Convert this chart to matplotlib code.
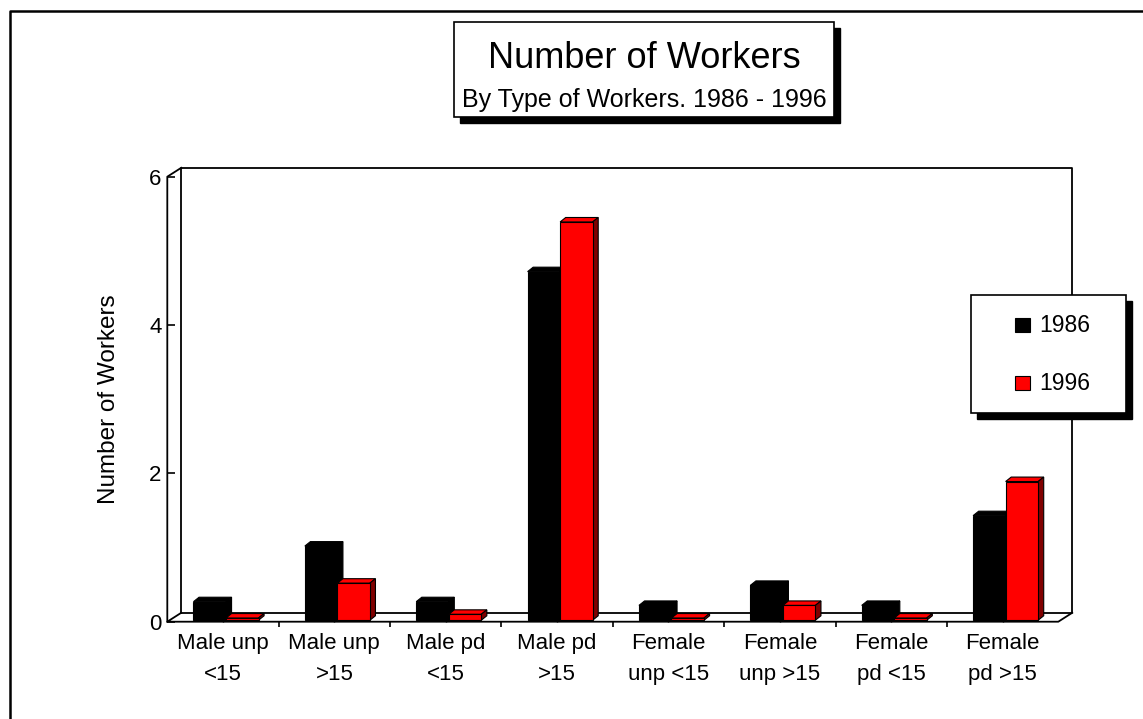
#!/usr/bin/env python
# -*- coding: utf-8 -*-

import matplotlib
matplotlib.use('Agg')
import matplotlib.pyplot as plt
import numpy as np
from matplotlib.patches import Polygon, Rectangle
from matplotlib.lines import Line2D

categories = ['Male unp\n<15', 'Male unp\n>15', 'Male pd\n<15', 'Male pd\n>15',
              'Female\nunp <15', 'Female\nunp >15', 'Female\npd <15', 'Female\npd >15']
years = ['1986', '1996']
workers_1986 = [0.25, 1.0, 0.25, 4.7, 0.2, 0.47, 0.2, 1.41]
workers_1996 = [0.03, 0.5, 0.08, 5.37, 0.03, 0.2, 0.03, 1.87]
yticks = [0, 2, 4, 6]

W, H = 1143, 719
plt.rcParams['font.family'] = ['Liberation Sans', 'DejaVu Sans']


def fx(px):
    return px / W


def fy(py):
    return 1 - py / H


def main():
    fig = plt.figure(figsize=(W / 100, H / 100), dpi=100)

    # outer frame (only left and top edges are visible)
    fig.add_artist(Line2D([fx(10), fx(10), 1], [0, fy(11), fy(11)],
                          color='black', lw=1.8, transform=fig.transFigure))

    ax = fig.add_axes([fx(167.3), fy(621.7), fx(1058.3) - fx(167.3),
                       fy(176.7) - fy(621.7)])
    n = len(categories)
    ax.set_xlim(0, n)
    ax.set_ylim(0, 6)
    for s in ax.spines.values():
        s.set_visible(False)
    ax.patch.set_visible(False)

    # 3d box: back wall offset
    DX, DY = 0.125, 0.12
    lk = dict(color='black', lw=1.3, clip_on=False, zorder=1)
    ax.plot([DX, DX, n + DX, n + DX, DX], [DY, 6 + DY, 6 + DY, DY, DY], **lk)
    ax.plot([0, 0, DX], [0, 6, 6 + DY], **lk)
    ax.plot([DX, 0, n, n + DX], [DY, 0, 0, DY], **lk)

    # bars
    x = np.arange(n)
    BW = 0.292
    START = 0.235
    FY = 0.02
    DDX, DDY = 0.05, 0.06
    series = [(workers_1986, 'black', 'black', 'black'),
              (workers_1996, '#ff0000', '#ff0000', '#800000')]
    z = 3
    for k, (vals, front, top, side) in enumerate(series):
        left = x + START + k * BW
        for xl, v in zip(left, vals):
            h = FY + v
            ax.add_patch(Polygon([(xl, h), (xl + BW, h), (xl + BW + DDX, h + DDY),
                                  (xl + DDX, h + DDY)], closed=True,
                                 facecolor=top, edgecolor='black', lw=0.8,
                                 clip_on=False, zorder=z))
            ax.add_patch(Polygon([(xl + BW, FY), (xl + BW + DDX, FY + DDY),
                                  (xl + BW + DDX, h + DDY), (xl + BW, h)],
                                 closed=True, facecolor=side, edgecolor='black',
                                 lw=0.8, clip_on=False, zorder=z))
        ax.bar(left, vals, BW, bottom=FY, align='edge', color=front,
               edgecolor='black', lw=0.8, zorder=z + 1)
        z += 2

    # axes ticks
    ax.set_yticks(yticks)
    ax.tick_params(axis='y', direction='in', length=5.5, width=1.2,
                   labelsize=16, pad=4)
    ax.set_xticks(x + 0.5)
    ax.set_xticklabels(categories, linespacing=1.65)
    ax.tick_params(axis='x', which='major', direction='in', length=3.5,
                   width=1.0, labelsize=16, pad=8)
    ax.set_xticks(np.arange(1, n), minor=True)
    ax.tick_params(axis='x', which='minor', direction='out', length=3.5,
                   width=1.2)
    ax.set_ylabel('Number of Workers', fontsize=17.5, va='center')
    ax.yaxis.set_label_coords((109 - 167.3) / 891, 0.5)

    # title box with shadow
    sh = 5.5
    fig.add_artist(Rectangle((fx(454 + sh), fy(117.3 + sh)), fx(380.3),
                             95 / H, transform=fig.transFigure,
                             facecolor='black', edgecolor='black', lw=1))
    fig.add_artist(Rectangle((fx(454), fy(117.3)), fx(380.3), 95 / H,
                             transform=fig.transFigure, facecolor='white',
                             edgecolor='black', lw=1.2))
    fig.text(fx(644), fy(58), 'Number of Workers', fontsize=26,
             ha='center', va='center')
    fig.text(fx(644), fy(100), 'By Type of Workers. 1986 - 1996', fontsize=18,
             ha='center', va='center')

    # legend box with shadow
    fig.add_artist(Rectangle((fx(971 + sh), fy(413 + sh)), fx(155),
                             118 / H, transform=fig.transFigure,
                             facecolor='black', edgecolor='black', lw=1))
    fig.add_artist(Rectangle((fx(971), fy(413)), fx(155), 118 / H,
                             transform=fig.transFigure, facecolor='white',
                             edgecolor='black', lw=1.2))
    for (vals, front, top, side), year, yc in zip(series, years, [325, 383]):
        fig.add_artist(Rectangle((fx(1015), fy(yc + 7)), fx(15), 14 / H,
                                 transform=fig.transFigure, facecolor=front,
                                 edgecolor='black', lw=0.8))
        fig.text(fx(1039), fy(yc), year, fontsize=16.5, ha='left',
                 va='center')

    fig.savefig('out.png', dpi=100)


if __name__ == "__main__":
    main()
